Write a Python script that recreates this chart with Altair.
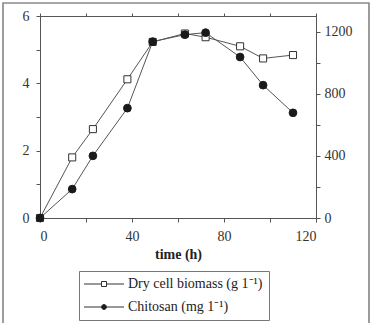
import altair as alt
import pandas as pd

# Fermentation time course
time_h = [0, 14, 23, 38, 49, 63, 72, 87, 97, 110]
biomass = [0, 1.80, 2.64, 4.12, 5.23, 5.48, 5.37, 5.10, 4.74, 4.84]      # g/l
chitosan = [0, 186, 400, 707, 1135, 1180, 1193, 1036, 855, 677]          # mg/l

series_names = ["Dry cell biomass (g 1\u207b\u00b9)", "Chitosan (mg 1\u207b\u00b9)"]

df = pd.DataFrame({"time": time_h, "biomass": biomass, "chitosan": chitosan})
legend_df = pd.DataFrame({"series": series_names})

FONT = "Liberation Serif"
INK = "#333333"
LINE = "#555555"

# legend glyphs: a short line with the marker in the middle (unit = 5 px)
sq_path = ("M-1.6,0L1.9,0M2.9,0L6.4,0"
           "M1.9,-0.5L2.9,-0.5L2.9,0.5L1.9,0.5Z")
ci_path = ("M-1.6,0L1.9,0M2.9,0L6.4,0"
           "M1.9,0A0.5,0.5 0 1,0 2.9,0A0.5,0.5 0 1,0 1.9,0Z")

x_bottom = alt.X(
    "time:Q",
    scale=alt.Scale(domain=[0, 120], nice=False, zero=False),
    axis=alt.Axis(
        orient="bottom", title="time (h)", values=list(range(0, 121, 20)),
        labelExpr="datum.value % 40 == 0 ? datum.label : ''",
        tickSize=4, labelPadding=7, titlePadding=4,
        titleFontWeight="bold", labelFont=FONT, titleFont=FONT,
    ),
)
x_top = alt.X(
    "time:Q",
    scale=alt.Scale(domain=[0, 120], nice=False, zero=False),
    axis=alt.Axis(orient="top", title=None, values=list(range(0, 121, 20)),
                  labels=False, tickSize=3),
)

y_left = alt.Y(
    "biomass:Q",
    scale=alt.Scale(domain=[0, 6], nice=False),
    axis=alt.Axis(orient="left", title=None, values=list(range(0, 7)),
                  labelExpr="datum.value % 2 == 0 ? datum.label : ''",
                  tickSize=4, labelPadding=7, labelFont=FONT),
)
y_right = alt.Y(
    "chitosan:Q",
    scale=alt.Scale(domain=[0, 1300], nice=False),
    axis=alt.Axis(orient="right", title=None, values=list(range(0, 1201, 200)),
                  format="d",
                  labelExpr="datum.value % 400 == 0 ? datum.label : ''",
                  tickSize=4, labelPadding=4, labelFont=FONT),
)

base = alt.Chart(df)

biomass_line = base.mark_line(color=LINE, strokeWidth=1).encode(x=x_bottom, y=y_left)
biomass_pts = base.mark_point(
    shape="square", size=50, filled=True, fill="white", stroke=INK,
    strokeWidth=1, opacity=1,
).encode(x=x_bottom, y=y_left)

chitosan_line = base.mark_line(color=LINE, strokeWidth=1).encode(x=x_top, y=y_right)
chitosan_pts = base.mark_point(
    shape="circle", size=60, filled=True, fill="#1a1a1a", stroke="#1a1a1a",
    strokeWidth=1, opacity=1,
).encode(x=x_top, y=y_right)

left = alt.layer(biomass_line, biomass_pts)
right = alt.layer(chitosan_line, chitosan_pts)

legend = alt.Legend(
    title=None, orient="none", legendX=39, legendY=255, direction="vertical",
    labelFont=FONT, labelFontSize=14, labelColor="#222222",
    strokeColor="#777777", fillColor="white", padding=6,
    symbolSize=100, symbolStrokeWidth=1, symbolOpacity=1,
    labelOffset=29, rowPadding=9,
)

# legend-only layer, kept off the canvas
legend_layer = alt.Chart(legend_df).mark_point(
    filled=False, strokeWidth=1, size=100, opacity=1,
).encode(
    x=alt.value(-600), y=alt.value(-600),
    shape=alt.Shape("series:N", sort=series_names,
                    scale=alt.Scale(domain=series_names, range=[sq_path, ci_path]),
                    legend=legend),
    fill=alt.Fill("series:N", sort=series_names,
                  scale=alt.Scale(domain=series_names, range=["white", "#1a1a1a"]),
                  legend=legend),
    stroke=alt.Stroke("series:N", sort=series_names,
                      scale=alt.Scale(domain=series_names, range=[INK, INK]),
                      legend=legend),
)

# thin frame around the whole figure
frame = alt.Chart(legend_df).mark_rect(
    fill="white", fillOpacity=0, stroke="#8a8a8a", strokeWidth=1.2,
).encode(
    x=alt.value(-37), x2=alt.value(329), y=alt.value(-13), y2=alt.value(320),
)

chart = alt.layer(frame, left, right, legend_layer).resolve_scale(
    y="independent"
).resolve_axis(x="independent").properties(
    width=276, height=202,
    autosize=alt.AutoSizeParams(type="none"),
    padding={"left": 40, "top": 16, "right": 57, "bottom": 105},
).configure_axis(
    domainColor=LINE, tickColor=LINE, labelFont=FONT, labelFontSize=14,
    labelColor=INK, titleFont=FONT, titleFontSize=14, titleColor="#222222",
    grid=False,
).configure_view(stroke=LINE, strokeWidth=1)

chart.save("out.html", embed_options={"renderer": "svg", "actions": False})
